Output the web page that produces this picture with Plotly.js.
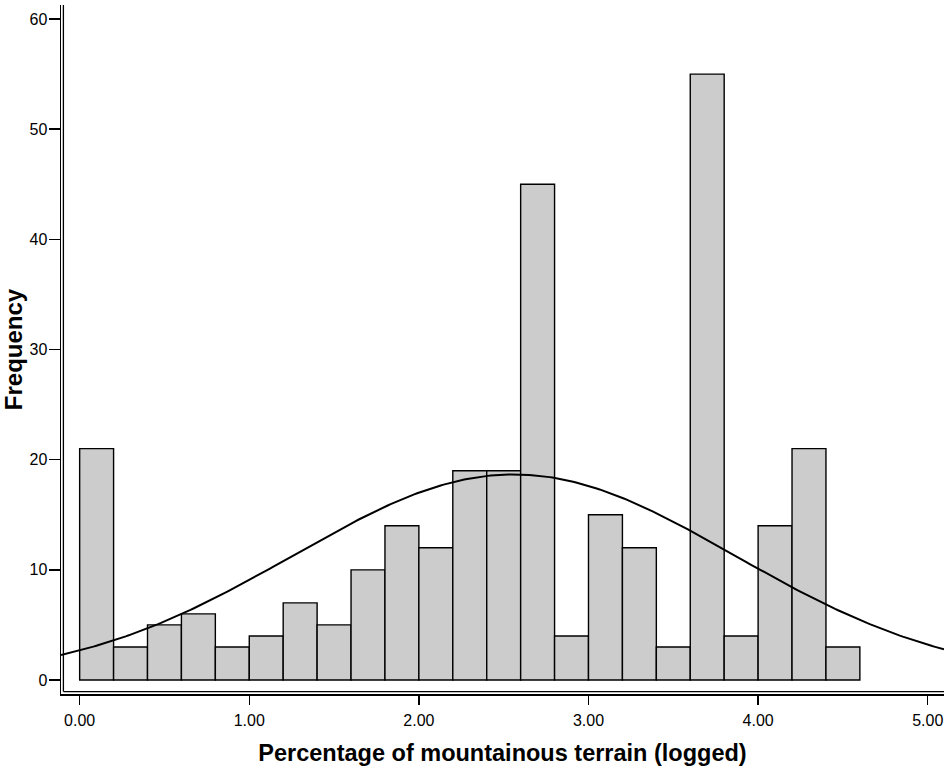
<!DOCTYPE html>
<html>
<head>
<meta charset="utf-8">
<script src="https://cdn.plot.ly/plotly-3.0.1.min.js"></script>
<style>
html,body{margin:0;padding:0;background:#fff;}
#chart{width:946px;height:768px;}
</style>
</head>
<body>
<div id="chart"></div>
<script>
// Histogram bins (left edges, width 0.2) and frequencies
var binStarts = [0.0,0.2,0.4,0.6,0.8,1.0,1.2,1.4,1.6,1.8,2.0,2.2,2.4,2.6,2.8,3.0,3.2,3.4,3.6,3.8,4.0,4.2,4.4];
var frequencies = [21,3,5,6,3,4,7,5,10,14,12,19,19,45,4,15,12,3,55,4,14,21,3];
var binWidth = 0.2;

// Fitted normal curve parameters (estimated from the drawn curve)
var curveMean = 2.56;
var curveSD = 1.30;

var xTickVals = [0,1,2,3,4,5];
var yTickVals = [0,10,20,30,40,50,60];

var xTitle = "Percentage of mountainous terrain (logged)";
var yTitle = "Frequency";

var xRange = [-0.110, 5.096];
var yRange = [-1.27, 61.27];

var barCenters = binStarts.map(function(s){ return s + binWidth/2; });
var nTotal = frequencies.reduce(function(a,b){return a+b;},0);

var curveX = [], curveY = [];
var steps = 300;
for (var i=0;i<=steps;i++){
  var x = xRange[0] + (xRange[1]-xRange[0])*i/steps;
  var z = (x-curveMean)/curveSD;
  curveX.push(x);
  curveY.push(nTotal*binWidth/(curveSD*Math.sqrt(2*Math.PI))*Math.exp(-0.5*z*z));
}

var traces = [
  {
    type:'bar',
    x: barCenters,
    y: frequencies,
    width: binWidth,
    marker:{color:'#cccccc', line:{color:'#000000', width:1.4}},
    hoverinfo:'x+y',
    showlegend:false
  },
  {
    type:'scatter',
    mode:'lines',
    x: curveX,
    y: curveY,
    line:{color:'#000000', width:2},
    hoverinfo:'skip',
    showlegend:false
  }
];

var W = 946, H = 768;
var ml = 61, mr = 2, mt = 5, mb = 74;
var pw = W-ml-mr, ph = H-mt-mb;
var gapX = 2.4/pw, gapY = 2.4/ph;

var layout = {
  width: W, height: H,
  margin:{l:ml, r:mr, t:mt, b:mb, pad:0},
  paper_bgcolor:'#ffffff',
  plot_bgcolor:'#ffffff',
  font:{family:'Liberation Sans, Arial, sans-serif', color:'#000000', size:16},
  bargap:0,
  xaxis:{
    range:xRange,
    tickvals:xTickVals,
    tickformat:'.2f',
    ticks:'outside', ticklen:9, tickwidth:1.5, tickcolor:'#000',
    showline:true, linecolor:'#000', linewidth:1.5,
    showgrid:false, zeroline:false,
    tickfont:{size:16},
    ticklabelstandoff:2,
    title:{text:xTitle, font:{size:23.5, weight:'bold'}, standoff:17},
    automargin:false
  },
  yaxis:{
    range:yRange,
    tickvals:yTickVals,
    ticks:'outside', ticklen:11, tickwidth:1.5, tickcolor:'#000',
    showline:true, linecolor:'#000', linewidth:1.5,
    showgrid:false, zeroline:false,
    tickfont:{size:16},
    ticklabelstandoff:-2,
    title:{text:yTitle, font:{size:24, weight:'bold'}, standoff:10},
    automargin:false
  },
  shapes:[
    {type:'line', xref:'paper', yref:'paper', x0:gapX, x1:gapX, y0:gapY, y1:1,
     line:{color:'#000', width:1.3}},
    {type:'line', xref:'paper', yref:'paper', x0:gapX, x1:1, y0:gapY, y1:gapY,
     line:{color:'#000', width:1.3}}
  ]
};

Plotly.newPlot('chart', traces, layout, {displayModeBar:false, staticPlot:true});
</script>
</body>
</html>
